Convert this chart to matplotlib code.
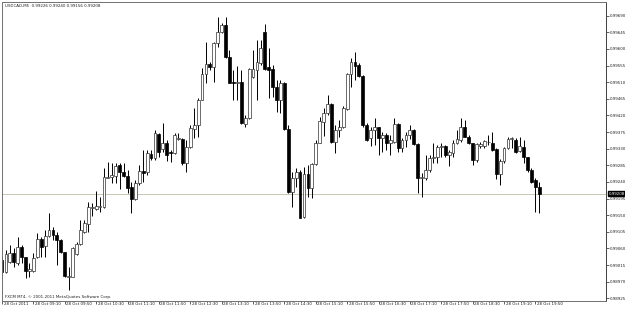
import numpy as np
import matplotlib
matplotlib.use("Agg")
import matplotlib.pyplot as plt
from matplotlib.transforms import blended_transform_factory, offset_copy
from matplotlib import font_manager

# ---- data (prices in points, 1 point = 0.00001) ----
header = "USDCAD,M5  0.99226 0.99240 0.99156 0.99208"
copyright_text = "FXCM MT4, \u00a9 2001-2011 MetaQuotes Software Corp."

open_pts = [99029, 98996, 99023, 99048, 99021, 99064, 99037, 98999, 98999, 99037,
            99086, 99067, 99094, 99110, 99096, 99083, 99050, 98983, 98983, 99045,
            99072, 99104, 99126, 99169, 99167, 99172, 99172, 99251, 99253, 99256,
            99286, 99267, 99256, 99226, 99194, 99237, 99270, 99267, 99316, 99305,
            99370, 99329, 99345, 99321, 99318, 99356, 99356, 99291, 99335, 99383,
            99394, 99462, 99532, 99559, 99551, 99616, 99646, 99665, 99578, 99510,
            99508, 99510, 99397, 99413, 99524, 99543, 99562, 99646, 99551, 99546,
            99497, 99462, 99508, 99383, 99213, 99251, 99267, 99145, 99261, 99224,
            99289, 99345, 99402, 99427, 99451, 99348, 99381, 99389, 99438, 99532,
            99565, 99557, 99527, 99394, 99359, 99381, 99389, 99359, 99367, 99345,
            99348, 99397, 99332, 99354, 99367, 99381, 99343, 99251, 99251, 99272,
            99305, 99308, 99335, 99337, 99313, 99318, 99345, 99354, 99389, 99362,
            99345, 99299, 99337, 99337, 99348, 99345, 99329, 99261, 99297, 99332,
            99356, 99354, 99324, 99335, 99308, 99272, 99245, 99226]
high_pts = [99037, 99056, 99070, 99061, 99091, 99070, 99037, 99021, 99048, 99102,
            99091, 99110, 99156, 99118, 99104, 99086, 99050, 99009, 99064, 99077,
            99137, 99137, 99186, 99183, 99215, 99199, 99278, 99294, 99291, 99291,
            99291, 99291, 99272, 99240, 99245, 99286, 99326, 99326, 99326, 99381,
            99372, 99400, 99354, 99326, 99372, 99372, 99359, 99354, 99394, 99440,
            99467, 99548, 99619, 99565, 99619, 99686, 99670, 99686, 99597, 99543,
            99554, 99543, 99421, 99548, 99597, 99624, 99624, 99668, 99602, 99557,
            99516, 99516, 99510, 99394, 99267, 99278, 99272, 99281, 99286, 99291,
            99354, 99416, 99440, 99475, 99454, 99394, 99408, 99446, 99535, 99575,
            99592, 99562, 99530, 99400, 99389, 99413, 99389, 99375, 99372, 99367,
            99413, 99400, 99359, 99375, 99394, 99383, 99345, 99264, 99313, 99313,
            99345, 99340, 99345, 99340, 99326, 99354, 99381, 99413, 99408, 99367,
            99345, 99345, 99348, 99354, 99367, 99375, 99332, 99302, 99335, 99362,
            99362, 99359, 99362, 99354, 99308, 99278, 99251, 99240]
low_pts = [98985, 98993, 99021, 99009, 99015, 99021, 98980, 98983, 98996, 99034,
           99037, 99037, 99091, 99083, 99015, 99048, 98983, 98947, 98983, 99042,
           99070, 99102, 99104, 99148, 99164, 99159, 99169, 99251, 99237, 99237,
           99221, 99253, 99210, 99156, 99191, 99232, 99240, 99259, 99299, 99299,
           99308, 99321, 99297, 99294, 99316, 99354, 99286, 99267, 99332, 99359,
           99362, 99462, 99508, 99543, 99510, 99605, 99643, 99575, 99508, 99462,
           99462, 99397, 99389, 99410, 99521, 99462, 99557, 99543, 99467, 99470,
           99429, 99427, 99381, 99210, 99172, 99226, 99142, 99142, 99199, 99197,
           99286, 99345, 99364, 99421, 99345, 99318, 99362, 99386, 99435, 99497,
           99516, 99524, 99389, 99351, 99337, 99340, 99313, 99321, 99326, 99313,
           99345, 99321, 99321, 99335, 99356, 99340, 99210, 99199, 99245, 99267,
           99291, 99291, 99308, 99308, 99283, 99308, 99343, 99348, 99362, 99343,
           99286, 99294, 99332, 99332, 99340, 99324, 99248, 99232, 99291, 99329,
           99332, 99318, 99321, 99291, 99267, 99237, 99159, 99156]
close_pts = [98996, 99045, 99048, 99023, 99064, 99037, 98999, 99004, 99034, 99086,
             99064, 99094, 99110, 99096, 99083, 99050, 98985, 98985, 99061, 99072,
             99110, 99129, 99172, 99172, 99175, 99175, 99253, 99253, 99259, 99283,
             99267, 99256, 99224, 99194, 99237, 99270, 99264, 99318, 99305, 99372,
             99321, 99345, 99313, 99318, 99367, 99359, 99291, 99335, 99386, 99394,
             99462, 99532, 99559, 99551, 99616, 99646, 99665, 99578, 99508, 99508,
             99510, 99400, 99413, 99546, 99546, 99565, 99602, 99546, 99543, 99497,
             99462, 99508, 99383, 99213, 99251, 99267, 99142, 99261, 99224, 99289,
             99345, 99405, 99427, 99451, 99348, 99381, 99389, 99440, 99532, 99565,
             99554, 99527, 99394, 99354, 99381, 99389, 99359, 99367, 99345, 99354,
             99397, 99332, 99354, 99367, 99381, 99343, 99251, 99253, 99272, 99305,
             99308, 99335, 99337, 99313, 99321, 99345, 99356, 99389, 99362, 99345,
             99299, 99343, 99343, 99351, 99349, 99326, 99261, 99297, 99332, 99356,
             99359, 99321, 99337, 99308, 99272, 99240, 99226, 99208]

time_labels = ["28 Oct 2011", "28 Oct 09:10", "28 Oct 09:50", "28 Oct 10:30",
               "28 Oct 11:10", "28 Oct 11:50", "28 Oct 12:30", "28 Oct 13:10",
               "28 Oct 13:50", "28 Oct 14:30", "28 Oct 15:10", "28 Oct 15:50",
               "28 Oct 16:30", "28 Oct 17:10", "28 Oct 17:50", "28 Oct 18:30",
               "28 Oct 19:10", "28 Oct 19:50"]
bars_per_label = 8
price_ticks = [0.98925, 0.98970, 0.99015, 0.99060, 0.99105, 0.99150, 0.99195,
               0.99240, 0.99285, 0.99330, 0.99375, 0.99420, 0.99465, 0.99510,
               0.99555, 0.99600, 0.99645, 0.99690]

POINT = 1e-5
o = np.array(open_pts) * POINT
h = np.array(high_pts) * POINT
l = np.array(low_pts) * POINT
c = np.array(close_pts) * POINT
idx = np.arange(len(o))

# font: narrow sans if available
installed = {f.name for f in font_manager.fontManager.ttflist}
if "Liberation Sans Narrow" in installed:
    FAM = ["Liberation Sans Narrow", "DejaVu Sans"]
    FS = 3.8
else:
    FAM = ["DejaVu Sans"]
    FS = 2.9
plt.rcParams["font.family"] = FAM

# ---- figure ----
W, H = 625, 309
fig = plt.figure(figsize=(W / 100, H / 100), dpi=100)
fig.patch.set_facecolor("white")
ax = fig.add_axes([2 / W, 8 / H, 604 / W, 299 / H])
ax.set_facecolor("white")

txtcol = "#202020"

# current price line
ax.axhline(c[-1], color="#c8c8b4", lw=0.7, zorder=0)

# wicks
ax.vlines(idx, l, h, color="black", lw=0.7, zorder=1)
# bodies
bull = c >= o
bottoms = np.minimum(o, c)
heights = np.abs(c - o)
ax.bar(idx[bull], heights[bull], bottom=bottoms[bull], width=0.72,
       facecolor="white", edgecolor="#303030", linewidth=0.5, zorder=2)
ax.bar(idx[~bull], heights[~bull], bottom=bottoms[~bull], width=0.72,
       facecolor="black", edgecolor="black", linewidth=0.5, zorder=2)

ax.set_xlim(0.076, 154.0)
ax.set_ylim(0.989176, 0.997271)

for s in ax.spines.values():
    s.set_color("#707070")
    s.set_linewidth(0.7)
ax.spines["right"].set_color("#404040")

# y axis on right
ax.yaxis.tick_right()
ax.set_yticks(price_ticks)
ax.set_yticklabels([f"{p:.5f}" for p in price_ticks])
ax.tick_params(axis="y", direction="out", length=2, width=0.5, pad=0.8,
               labelsize=FS, colors=txtcol)

# x axis ticks and labels
tick_pos = idx[::bars_per_label][:len(time_labels)]
ax.set_xticks(tick_pos)
ax.set_xticklabels([])
ax.tick_params(axis="x", direction="out", length=2.5, width=0.5, colors=txtcol)
trans = offset_copy(blended_transform_factory(ax.transData, ax.transAxes),
                    fig=fig, x=1.5, y=-1.0, units="dots")
for p, lab in zip(tick_pos, time_labels):
    ax.text(p, 0, lab, transform=trans, ha="left", va="top",
            fontsize=FS, color=txtcol, clip_on=False)

# current price marker
bt = blended_transform_factory(ax.transAxes, ax.transData)
ax.text(1.004, c[-1], f"{c[-1]:.5f}", transform=bt, ha="left", va="center",
        fontsize=FS, color="white", clip_on=False,
        bbox=dict(boxstyle="square,pad=0.15", facecolor="black", edgecolor="black"))

# header and copyright
ax.text(0.005, 0.992, header, transform=ax.transAxes, ha="left", va="top",
        fontsize=FS, color=txtcol)
ax.text(0.005, 0.008, copyright_text, transform=ax.transAxes, ha="left",
        va="bottom", fontsize=FS, color=txtcol)

fig.savefig("out.png", dpi=100, facecolor="white")
